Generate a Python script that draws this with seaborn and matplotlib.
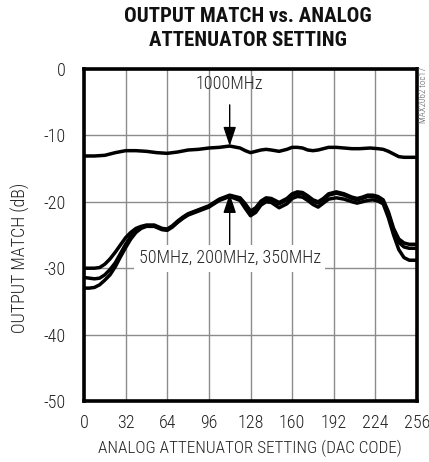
import numpy as np
import pandas as pd
import matplotlib
matplotlib.use("Agg")
import matplotlib.pyplot as plt
import seaborn as sns

# DAC codes shared by the three low-frequency traces
codes = [0, 4, 8, 12, 16, 20, 24, 28, 32, 36, 40, 44, 48, 54, 60, 64, 68, 72,
         76, 80, 88, 96, 104, 112, 120, 124, 128, 132, 136, 140, 144, 150, 156,
         160, 164, 168, 172, 176, 180, 184, 188, 194, 200, 206, 210, 214, 218,
         222, 226, 230, 234, 238, 242, 246, 250, 256]

match_a = [-30.0, -30.0, -30.0, -29.9, -29.4, -28.6, -27.6, -26.5, -25.4, -24.6,
           -24.0, -23.7, -23.5, -23.5, -24.0, -24.1, -23.6, -22.9, -22.3, -21.8,
           -21.2, -20.6, -19.6, -19.0, -19.4, -20.3, -21.4, -20.9, -19.9, -19.4,
           -19.5, -20.1, -19.5, -18.8, -18.5, -18.6, -19.1, -19.7, -20.0, -19.5,
           -18.8, -18.5, -18.8, -19.3, -19.5, -19.3, -19.0, -19.0, -19.2, -19.7,
           -21.5, -24.0, -25.6, -26.2, -26.4, -26.4]

match_b = [-31.4, -31.5, -31.6, -31.5, -31.0, -30.2, -29.2, -27.8, -26.4, -25.2,
           -24.4, -23.9, -23.6, -23.6, -24.1, -24.2, -23.7, -23.0, -22.4, -21.9,
           -21.3, -20.7, -19.7, -19.1, -19.5, -20.5, -21.6, -21.1, -20.1, -19.6,
           -19.7, -20.3, -19.7, -19.0, -18.7, -18.8, -19.3, -19.9, -20.2, -19.7,
           -19.0, -18.7, -19.0, -19.5, -19.7, -19.5, -19.2, -19.2, -19.4, -19.9,
           -21.8, -24.4, -26.1, -26.8, -27.0, -27.0]

match_c = [-33.0, -33.0, -32.9, -32.5, -31.8, -31.0, -29.8, -28.3, -26.9, -25.6,
           -24.6, -24.0, -23.7, -23.7, -24.2, -24.3, -23.8, -23.1, -22.5, -22.0,
           -21.4, -20.8, -19.8, -19.2, -19.8, -21.0, -22.1, -21.6, -20.5, -20.0,
           -20.1, -20.9, -20.3, -19.5, -19.2, -19.3, -19.8, -20.4, -20.8, -20.2,
           -19.6, -19.4, -19.6, -20.0, -20.2, -20.0, -19.8, -19.7, -19.9, -20.3,
           -22.4, -25.0, -27.2, -28.4, -28.8, -28.8]

codes_1000 = [0, 8, 16, 24, 32, 40, 48, 56, 64, 72, 80, 88, 96, 104, 112, 120,
              124, 128, 132, 136, 140, 144, 150, 156, 160, 164, 168, 172, 176,
              180, 184, 188, 194, 200, 206, 212, 220, 226, 230, 234, 238, 242,
              246, 256]
match_1000 = [-13.1, -13.1, -13.0, -12.6, -12.3, -12.3, -12.4, -12.6, -12.7,
              -12.5, -12.2, -12.1, -11.9, -11.8, -11.6, -11.9, -12.3, -12.6,
              -12.4, -12.2, -12.1, -12.2, -12.4, -12.1, -11.8, -11.8, -11.9,
              -12.2, -12.3, -12.2, -12.0, -11.8, -11.8, -11.9, -12.0, -12.0,
              -11.9, -12.0, -12.1, -12.4, -12.8, -13.2, -13.3, -13.3]

x_ticks = [0, 32, 64, 96, 128, 160, 192, 224, 256]
y_ticks = [0, -10, -20, -30, -40, -50]

sns.set_style("white")
plt.rcParams["font.family"] = ["Roboto Condensed", "DejaVu Sans"]
plt.rcParams["font.weight"] = 300
plt.rcParams["axes.unicode_minus"] = False

fig = plt.figure(figsize=(4.29, 4.62), dpi=100)
ax = fig.add_axes([84 / 429, 1 - 401 / 462, 333 / 429, 332 / 462])

df = pd.concat([
    pd.DataFrame({"code": codes, "db": match_a, "f": "a"}),
    pd.DataFrame({"code": codes, "db": match_b, "f": "b"}),
    pd.DataFrame({"code": codes, "db": match_c, "f": "c"}),
    pd.DataFrame({"code": codes_1000, "db": match_1000, "f": "d"}),
])
sns.lineplot(data=df, x="code", y="db", units="f", estimator=None,
             color="black", lw=2.5, ax=ax, zorder=3,
             solid_joinstyle="round", solid_capstyle="butt")

ax.set_xlim(0, 256)
ax.set_ylim(-50, 0)
ax.set_xticks(x_ticks)
ax.set_yticks(y_ticks)
ax.grid(True, color="#8c8c8c", lw=1.0, zorder=0)
for s in ax.spines.values():
    s.set_color("black")
    s.set_linewidth(2.6)
ax.tick_params(length=0, labelsize=13, colors="#222222")
ax.tick_params(axis="y", pad=13)
ax.tick_params(axis="x", pad=9)
ax.set_xlabel("")
ax.set_ylabel("")

ax.annotate("1000MHz", xy=(112, -11.6), xytext=(112, -2.3),
            ha="center", va="center", fontsize=13, color="#222222",
            arrowprops=dict(arrowstyle="-|>,head_width=0.3,head_length=0.9",
                            color="black", lw=1.0, shrinkA=6, shrinkB=0),
            zorder=4)
ax.annotate("50MHz, 200MHz, 350MHz", xy=(112, -18.8), xytext=(112, -28.5),
            ha="center", va="center", fontsize=13, color="#222222",
            bbox=dict(boxstyle="square,pad=0.25", fc="white", ec="none"),
            arrowprops=dict(arrowstyle="-|>,head_width=0.3,head_length=0.9",
                            color="black", lw=1.0, shrinkA=0, shrinkB=0),
            zorder=4)

fig.text(248 / 429, 1 - 17 / 462, "OUTPUT MATCH vs. ANALOG", ha="center",
         va="center", fontsize=15, fontweight="bold", color="#111111")
fig.text(248 / 429, 1 - 41 / 462, "ATTENUATOR SETTING", ha="center",
         va="center", fontsize=15, fontweight="bold", color="#111111")
fig.text(250 / 429, 1 - 448 / 462, "ANALOG ATTENUATOR SETTING (DAC CODE)",
         ha="center", va="center", fontsize=12.3, color="#222222")
fig.text(20 / 429, 1 - 258 / 462, "OUTPUT MATCH (dB)", ha="center",
         va="center", rotation=90, fontsize=13, color="#222222")
fig.text(423 / 429, 1 - 95 / 462, "MAX2062 toc17", ha="center", va="center",
         rotation=90, fontsize=6.5, color="#555555")

fig.savefig("out.png", dpi=100)
